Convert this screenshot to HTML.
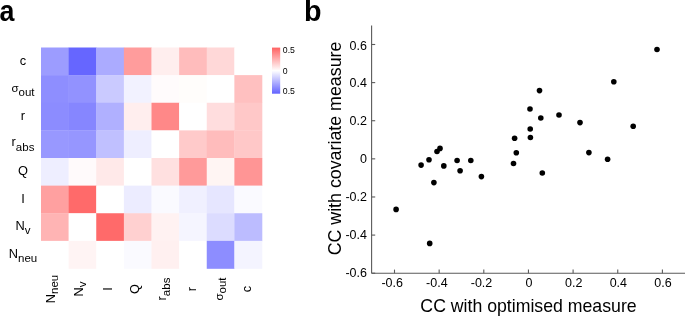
<!DOCTYPE html><html><head><meta charset="utf-8"><style>html,body{margin:0;padding:0;background:#fff;width:685px;height:316px;overflow:hidden}svg{display:block;will-change:transform}text{font-family:"Liberation Sans",sans-serif;fill:#000}</style></head><body>
<svg width="685" height="316" viewBox="0 0 685 316">
<text x="0" y="0" transform="translate(-0.6,20.6) scale(0.9,1)" font-size="29.8" font-weight="bold">a</text>
<text x="0" y="0" transform="translate(304.0,20.6) scale(0.97,1)" font-size="29.6" font-weight="bold">b</text>
<rect x="41.000" y="47.500" width="27.925" height="27.925" fill="#9C9CFF"/>
<rect x="68.625" y="47.500" width="27.925" height="27.925" fill="#6666FF"/>
<rect x="96.250" y="47.500" width="27.925" height="27.925" fill="#ABABFF"/>
<rect x="123.875" y="47.500" width="27.925" height="27.925" fill="#FF9C9C"/>
<rect x="151.500" y="47.500" width="27.925" height="27.925" fill="#FFEEEE"/>
<rect x="179.125" y="47.500" width="27.925" height="27.925" fill="#FFBCBC"/>
<rect x="206.750" y="47.500" width="27.925" height="27.925" fill="#FFD8D8"/>
<rect x="234.375" y="47.500" width="27.925" height="27.925" fill="#FFFFFF"/>
<rect x="41.000" y="75.125" width="27.925" height="27.925" fill="#8E8EFF"/>
<rect x="68.625" y="75.125" width="27.925" height="27.925" fill="#9292FF"/>
<rect x="96.250" y="75.125" width="27.925" height="27.925" fill="#CACAFF"/>
<rect x="123.875" y="75.125" width="27.925" height="27.925" fill="#F2F2FF"/>
<rect x="151.500" y="75.125" width="27.925" height="27.925" fill="#FFFBFC"/>
<rect x="179.125" y="75.125" width="27.925" height="27.925" fill="#FFFDFB"/>
<rect x="206.750" y="75.125" width="27.925" height="27.925" fill="#FFFFFF"/>
<rect x="234.375" y="75.125" width="27.925" height="27.925" fill="#FFC0C0"/>
<rect x="41.000" y="102.750" width="27.925" height="27.925" fill="#8C8CFF"/>
<rect x="68.625" y="102.750" width="27.925" height="27.925" fill="#8686FF"/>
<rect x="96.250" y="102.750" width="27.925" height="27.925" fill="#B0B0FF"/>
<rect x="123.875" y="102.750" width="27.925" height="27.925" fill="#FFEEEE"/>
<rect x="151.500" y="102.750" width="27.925" height="27.925" fill="#FF8888"/>
<rect x="179.125" y="102.750" width="27.925" height="27.925" fill="#FFFFFF"/>
<rect x="206.750" y="102.750" width="27.925" height="27.925" fill="#FFDDDE"/>
<rect x="234.375" y="102.750" width="27.925" height="27.925" fill="#FFC8C8"/>
<rect x="41.000" y="130.375" width="27.925" height="27.925" fill="#9898FF"/>
<rect x="68.625" y="130.375" width="27.925" height="27.925" fill="#9696FF"/>
<rect x="96.250" y="130.375" width="27.925" height="27.925" fill="#C0C0FF"/>
<rect x="123.875" y="130.375" width="27.925" height="27.925" fill="#EEEEFF"/>
<rect x="151.500" y="130.375" width="27.925" height="27.925" fill="#FFFFFF"/>
<rect x="179.125" y="130.375" width="27.925" height="27.925" fill="#FFCACA"/>
<rect x="206.750" y="130.375" width="27.925" height="27.925" fill="#FFBCBC"/>
<rect x="234.375" y="130.375" width="27.925" height="27.925" fill="#FFC8C8"/>
<rect x="41.000" y="158.000" width="27.925" height="27.925" fill="#EEEEFF"/>
<rect x="68.625" y="158.000" width="27.925" height="27.925" fill="#FFFAFB"/>
<rect x="96.250" y="158.000" width="27.925" height="27.925" fill="#FFE9E9"/>
<rect x="123.875" y="158.000" width="27.925" height="27.925" fill="#FFFFFF"/>
<rect x="151.500" y="158.000" width="27.925" height="27.925" fill="#FFE0E0"/>
<rect x="179.125" y="158.000" width="27.925" height="27.925" fill="#FF9A9A"/>
<rect x="206.750" y="158.000" width="27.925" height="27.925" fill="#FFF5F3"/>
<rect x="234.375" y="158.000" width="27.925" height="27.925" fill="#FF9595"/>
<rect x="41.000" y="185.625" width="27.925" height="27.925" fill="#FFA0A0"/>
<rect x="68.625" y="185.625" width="27.925" height="27.925" fill="#FF6A6A"/>
<rect x="96.250" y="185.625" width="27.925" height="27.925" fill="#FFFFFF"/>
<rect x="123.875" y="185.625" width="27.925" height="27.925" fill="#ECECFF"/>
<rect x="151.500" y="185.625" width="27.925" height="27.925" fill="#FAFAFF"/>
<rect x="179.125" y="185.625" width="27.925" height="27.925" fill="#F0F0FF"/>
<rect x="206.750" y="185.625" width="27.925" height="27.925" fill="#E6E6FF"/>
<rect x="234.375" y="185.625" width="27.925" height="27.925" fill="#FAFAFF"/>
<rect x="41.000" y="213.250" width="27.925" height="27.925" fill="#FFB4B4"/>
<rect x="68.625" y="213.250" width="27.925" height="27.925" fill="#FFFFFF"/>
<rect x="96.250" y="213.250" width="27.925" height="27.925" fill="#FF6A6A"/>
<rect x="123.875" y="213.250" width="27.925" height="27.925" fill="#FFD0D0"/>
<rect x="151.500" y="213.250" width="27.925" height="27.925" fill="#FFF2F2"/>
<rect x="179.125" y="213.250" width="27.925" height="27.925" fill="#F5F5FF"/>
<rect x="206.750" y="213.250" width="27.925" height="27.925" fill="#DCDCFF"/>
<rect x="234.375" y="213.250" width="27.925" height="27.925" fill="#BCBCFF"/>
<rect x="41.000" y="240.875" width="27.925" height="27.925" fill="#FFFFFF"/>
<rect x="68.625" y="240.875" width="27.925" height="27.925" fill="#FFF4F4"/>
<rect x="96.250" y="240.875" width="27.925" height="27.925" fill="#FFFFFF"/>
<rect x="123.875" y="240.875" width="27.925" height="27.925" fill="#FAFAFF"/>
<rect x="151.500" y="240.875" width="27.925" height="27.925" fill="#FFF0F0"/>
<rect x="179.125" y="240.875" width="27.925" height="27.925" fill="#FFFFFF"/>
<rect x="206.750" y="240.875" width="27.925" height="27.925" fill="#8D8DFF"/>
<rect x="234.375" y="240.875" width="27.925" height="27.925" fill="#F4F4FF"/>
<text x="23" y="65.21" font-size="12.8" text-anchor="middle" fill="#222">c</text>
<text x="23" y="92.04" font-size="12.8" text-anchor="middle" fill="#222"><tspan font-size="11.5">σ</tspan><tspan font-size="11.5" dy="3.8">out</tspan></text>
<text x="23" y="120.26" font-size="12.8" text-anchor="middle" fill="#222">r</text>
<text x="23" y="146.39" font-size="12.8" text-anchor="middle" fill="#222">r<tspan font-size="11.5" dy="4.4">abs</tspan></text>
<text x="23" y="175.41" font-size="12.8" text-anchor="middle" fill="#222">Q</text>
<text x="23" y="203.44" font-size="12.8" text-anchor="middle" fill="#222">I</text>
<text x="23" y="230.16" font-size="12.8" text-anchor="middle" fill="#222">N<tspan font-size="11.5" dy="3.8">v</tspan></text>
<text x="23" y="257.79" font-size="12.8" text-anchor="middle" fill="#222">N<tspan font-size="11.5" dy="3.8">neu</tspan></text>
<text x="0" y="0" transform="translate(55.31,289) rotate(-90)" font-size="12.8" text-anchor="middle" fill="#222">N<tspan font-size="11.5" dy="3.0">neu</tspan></text>
<text x="0" y="0" transform="translate(83.24,289) rotate(-90)" font-size="12.8" text-anchor="middle" fill="#222">N<tspan font-size="11.5" dy="3.0">v</tspan></text>
<text x="0" y="0" transform="translate(111.56,289) rotate(-90)" font-size="12.8" text-anchor="middle" fill="#222">I</text>
<text x="0" y="0" transform="translate(139.19,289) rotate(-90)" font-size="12.8" text-anchor="middle" fill="#222">Q</text>
<text x="0" y="0" transform="translate(166.01,289) rotate(-90)" font-size="12.8" text-anchor="middle" fill="#222">r<tspan font-size="11.5" dy="3.9">abs</tspan></text>
<text x="0" y="0" transform="translate(196.44,289) rotate(-90)" font-size="12.8" text-anchor="middle" fill="#222">r</text>
<text x="0" y="0" transform="translate(222.56,289) rotate(-90)" font-size="12.8" text-anchor="middle" fill="#222"><tspan font-size="11.5">σ</tspan><tspan font-size="11.5" dy="3.0">out</tspan></text>
<text x="0" y="0" transform="translate(250.69,289) rotate(-90)" font-size="12.8" text-anchor="middle" fill="#222">c</text>
<defs><linearGradient id="cb" x1="0" y1="0" x2="0" y2="1"><stop offset="0" stop-color="#FF6262"/><stop offset="0.5" stop-color="#FFFFFF"/><stop offset="1" stop-color="#6262FF"/></linearGradient></defs>
<rect x="272" y="47.6" width="8.2" height="46.1" fill="url(#cb)"/>
<text x="282.8" y="53.3" font-size="8.7" fill="#222">0.5</text>
<text x="282.8" y="73.5" font-size="8.7" fill="#222">0</text>
<text x="282.8" y="93.8" font-size="8.7" fill="#222">0.5</text>
<g shape-rendering="auto" stroke="#5a5a5a" stroke-width="1.1" fill="none">
<line x1="371.6" y1="25.4" x2="371.6" y2="273.2"/>
<line x1="371.6" y1="273.2" x2="690" y2="273.2"/>
<line x1="394.50" y1="273.2" x2="394.50" y2="269.59999999999997"/>
<line x1="439.15" y1="273.2" x2="439.15" y2="269.59999999999997"/>
<line x1="483.80" y1="273.2" x2="483.80" y2="269.59999999999997"/>
<line x1="528.45" y1="273.2" x2="528.45" y2="269.59999999999997"/>
<line x1="573.10" y1="273.2" x2="573.10" y2="269.59999999999997"/>
<line x1="617.75" y1="273.2" x2="617.75" y2="269.59999999999997"/>
<line x1="662.40" y1="273.2" x2="662.40" y2="269.59999999999997"/>
<line x1="371.6" y1="273.21" x2="375.20000000000005" y2="273.21"/>
<line x1="371.6" y1="235.09" x2="375.20000000000005" y2="235.09"/>
<line x1="371.6" y1="196.97" x2="375.20000000000005" y2="196.97"/>
<line x1="371.6" y1="158.85" x2="375.20000000000005" y2="158.85"/>
<line x1="371.6" y1="120.73" x2="375.20000000000005" y2="120.73"/>
<line x1="371.6" y1="82.61" x2="375.20000000000005" y2="82.61"/>
<line x1="371.6" y1="44.49" x2="375.20000000000005" y2="44.49"/>
</g>
<text x="392.20" y="286.8" font-size="12.5" text-anchor="middle" fill="#404040">-0.6</text>
<text x="436.85" y="286.8" font-size="12.5" text-anchor="middle" fill="#404040">-0.4</text>
<text x="481.50" y="286.8" font-size="12.5" text-anchor="middle" fill="#404040">-0.2</text>
<text x="529.05" y="286.8" font-size="12.5" text-anchor="middle" fill="#404040">0</text>
<text x="573.70" y="286.8" font-size="12.5" text-anchor="middle" fill="#404040">0.2</text>
<text x="618.35" y="286.8" font-size="12.5" text-anchor="middle" fill="#404040">0.4</text>
<text x="663.00" y="286.8" font-size="12.5" text-anchor="middle" fill="#404040">0.6</text>
<text x="367" y="277.11" font-size="12.5" text-anchor="end" fill="#404040">-0.6</text>
<text x="367" y="238.99" font-size="12.5" text-anchor="end" fill="#404040">-0.4</text>
<text x="367" y="200.87" font-size="12.5" text-anchor="end" fill="#404040">-0.2</text>
<text x="367" y="162.75" font-size="12.5" text-anchor="end" fill="#404040">0</text>
<text x="367" y="124.63" font-size="12.5" text-anchor="end" fill="#404040">0.2</text>
<text x="367" y="86.51" font-size="12.5" text-anchor="end" fill="#404040">0.4</text>
<text x="367" y="50.39" font-size="12.5" text-anchor="end" fill="#404040">0.6</text>
<text x="528.5" y="312.1" font-size="17.7" text-anchor="middle" fill="#303030">CC with optimised measure</text>
<text x="0" y="0" transform="translate(340.6,148.5) rotate(-90) scale(1.006,1)" font-size="17.7" text-anchor="middle" fill="#303030">CC with covariate measure</text>
<g shape-rendering="auto" fill="#000">
<circle cx="657.0" cy="49.5" r="2.8"/>
<circle cx="613.8" cy="81.8" r="2.8"/>
<circle cx="539.5" cy="90.6" r="2.8"/>
<circle cx="530.0" cy="109.0" r="2.8"/>
<circle cx="540.8" cy="118.0" r="2.8"/>
<circle cx="559.0" cy="115.0" r="2.8"/>
<circle cx="580.0" cy="122.6" r="2.8"/>
<circle cx="633.2" cy="126.2" r="2.8"/>
<circle cx="530.2" cy="129.0" r="2.8"/>
<circle cx="514.6" cy="138.3" r="2.8"/>
<circle cx="530.4" cy="137.5" r="2.8"/>
<circle cx="516.3" cy="152.8" r="2.8"/>
<circle cx="588.9" cy="152.6" r="2.8"/>
<circle cx="607.6" cy="159.2" r="2.8"/>
<circle cx="513.5" cy="163.5" r="2.8"/>
<circle cx="542.3" cy="173.0" r="2.8"/>
<circle cx="481.4" cy="176.6" r="2.8"/>
<circle cx="470.8" cy="160.5" r="2.8"/>
<circle cx="457.1" cy="160.5" r="2.8"/>
<circle cx="460.1" cy="170.7" r="2.8"/>
<circle cx="443.8" cy="165.9" r="2.8"/>
<circle cx="440.0" cy="148.4" r="2.8"/>
<circle cx="437.0" cy="151.5" r="2.8"/>
<circle cx="429.0" cy="159.7" r="2.8"/>
<circle cx="421.1" cy="165.1" r="2.8"/>
<circle cx="433.9" cy="182.6" r="2.8"/>
<circle cx="396.1" cy="209.4" r="2.8"/>
<circle cx="429.7" cy="243.4" r="2.8"/>
</g>
</svg></body></html>
